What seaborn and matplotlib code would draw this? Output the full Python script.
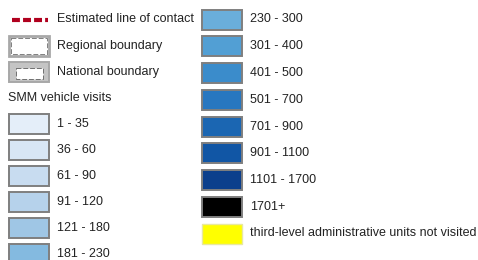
import matplotlib
matplotlib.use("Agg")
import matplotlib.pyplot as plt
import matplotlib.patches as mpatches
import seaborn as sns

# legend contents
visit_labels_left = ["1 - 35", "36 - 60", "61 - 90", "91 - 120", "121 - 180", "181 - 230"]
visit_colors_left = ["#e4eef9", "#d8e6f5", "#c8dcf0", "#b6d2eb", "#9fc6e5", "#84bae0"]
visit_labels_right = ["230 - 300", "301 - 400", "401 - 500", "501 - 700", "701 - 900",
                      "901 - 1100", "1101 - 1700", "1701+"]
visit_colors_right = ["#6aaedb", "#529fd4", "#3b8ccb", "#2877c0", "#1b66b2",
                      "#1156a5", "#0b3f8c", "#000000"]
boundary_labels = ["Estimated line of contact", "Regional boundary", "National boundary"]
section_title = "SMM vehicle visits"
not_visited_label = "third-level administrative units not visited"
not_visited_color = "#ffff00"

sns.set_style("white")
plt.rcParams['font.family'] = ['Liberation Sans', 'DejaVu Sans']

fig = plt.figure(figsize=(4.78, 2.6), dpi=100)
ax = fig.add_axes([0, 0, 1, 1])
ax.set_xlim(0, 478)
ax.set_ylim(260, 0)
ax.axis("off")

row0 = 19.5
step_left, step_right = 26.1, 26.75
sw_w, sw_h = 40, 20
edge = "#7f7f7f"
txt_kw = dict(fontsize=9, color="#222222", va="center")


def swatch(x, y, color):
    ax.add_patch(mpatches.Rectangle((x, y - sw_h / 2), sw_w, sw_h, facecolor=color,
                                    edgecolor=edge, linewidth=1.4))


# left column
lx = 9
ly = [row0 + step_left * i for i in range(10)]
ax.plot([lx + 3, lx + 39], [ly[0], ly[0]], color="#b0001e", linewidth=3,
        linestyle=(0, (1.9, 0.75)), solid_capstyle="butt", dash_capstyle="butt")
ax.text(lx + 48, ly[0], boundary_labels[0], **txt_kw)

# regional boundary
y = ly[1]
ax.add_patch(mpatches.Rectangle((lx, y - 10), sw_w, sw_h, facecolor="white",
                                edgecolor="#a8a8a8", linewidth=2.0))
ax.add_patch(mpatches.Rectangle((lx + 2, y - 8), sw_w - 4, sw_h - 4, facecolor="none",
                                edgecolor="#808080", linewidth=0.7, linestyle=(0, (5, 2))))
ax.text(lx + 48, y, boundary_labels[1], **txt_kw)

# national boundary
y = ly[2]
ax.add_patch(mpatches.Rectangle((lx, y - 10), sw_w, sw_h, facecolor="#c4c4c4",
                                edgecolor="#a8a8a8", linewidth=1.4))
ax.add_patch(mpatches.Rectangle((lx + 7, y - 4), sw_w - 13, sw_h - 9, facecolor="white",
                                edgecolor="#707070", linewidth=0.7, linestyle=(0, (5, 2))))
ax.text(lx + 48, y, boundary_labels[2], **txt_kw)

ax.text(lx - 1, ly[3], section_title, **txt_kw)

for k, (lab, col) in enumerate(zip(visit_labels_left, visit_colors_left)):
    swatch(lx, ly[4 + k], col)
    ax.text(lx + 48, ly[4 + k], lab, **txt_kw)

# right column
rx = 202
ry = [row0 + step_right * i for i in range(9)]
for k, (lab, col) in enumerate(zip(visit_labels_right, visit_colors_right)):
    swatch(rx, ry[k], col)
    ax.text(rx + 48, ry[k], lab, **txt_kw)

k = len(visit_labels_right)
ax.add_patch(mpatches.Rectangle((rx, ry[k] - sw_h / 2), sw_w, sw_h,
                                facecolor=not_visited_color, edgecolor="#e8e8a0", linewidth=1.0))
ax.text(rx + 48, ry[k], not_visited_label, **txt_kw)

fig.savefig("out.png", dpi=100)
